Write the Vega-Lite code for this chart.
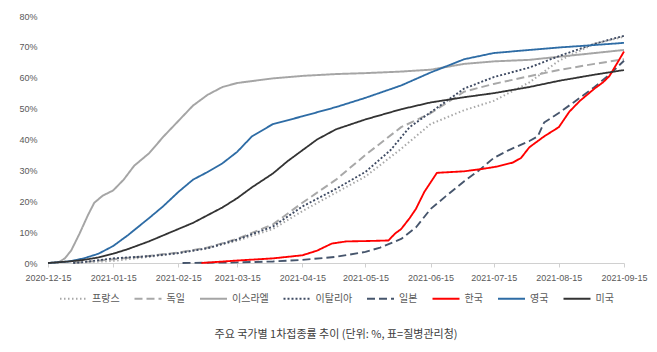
{
  "$schema": "https://vega.github.io/schema/vega-lite/v6.json",
  "width": 576,
  "height": 247,
  "autosize": {"type": "none"},
  "padding": {"left": 48, "top": 16, "right": 33, "bottom": 89},
  "background": "white",
  "config": {"view": {"stroke": null}},
  "title": {
    "text": "주요 국가별 1차접종률 추이 (단위: %, 표=질병관리청)",
    "orient": "bottom",
    "anchor": "middle",
    "offset": 25,
    "font": "Noto Sans CJK KR",
    "fontSize": 11,
    "fontWeight": "normal",
    "color": "#404040"
  },
  "data": {
    "values": [
      {"c": "프랑스", "d": "2020-12-27", "v": 0},
      {"c": "프랑스", "d": "2021-01-15", "v": 0.7},
      {"c": "프랑스", "d": "2021-02-01", "v": 2.0},
      {"c": "프랑스", "d": "2021-02-15", "v": 3.2},
      {"c": "프랑스", "d": "2021-03-01", "v": 4.8},
      {"c": "프랑스", "d": "2021-03-15", "v": 7.2},
      {"c": "프랑스", "d": "2021-04-01", "v": 11.0},
      {"c": "프랑스", "d": "2021-04-15", "v": 16.8},
      {"c": "프랑스", "d": "2021-05-01", "v": 22.8},
      {"c": "프랑스", "d": "2021-05-15", "v": 28.0},
      {"c": "프랑스", "d": "2021-06-01", "v": 37.0},
      {"c": "프랑스", "d": "2021-06-15", "v": 45.0},
      {"c": "프랑스", "d": "2021-07-01", "v": 49.5},
      {"c": "프랑스", "d": "2021-07-15", "v": 52.5},
      {"c": "프랑스", "d": "2021-08-01", "v": 58.5},
      {"c": "프랑스", "d": "2021-08-15", "v": 65.5},
      {"c": "프랑스", "d": "2021-09-01", "v": 71.0},
      {"c": "프랑스", "d": "2021-09-15", "v": 73.3},

      {"c": "독일", "d": "2020-12-27", "v": 0},
      {"c": "독일", "d": "2021-01-15", "v": 1.2},
      {"c": "독일", "d": "2021-02-01", "v": 2.3},
      {"c": "독일", "d": "2021-02-15", "v": 3.4},
      {"c": "독일", "d": "2021-03-01", "v": 5.0},
      {"c": "독일", "d": "2021-03-15", "v": 7.8},
      {"c": "독일", "d": "2021-04-01", "v": 12.5},
      {"c": "독일", "d": "2021-04-15", "v": 19.5},
      {"c": "독일", "d": "2021-05-01", "v": 27.0},
      {"c": "독일", "d": "2021-05-15", "v": 35.0},
      {"c": "독일", "d": "2021-06-01", "v": 44.0},
      {"c": "독일", "d": "2021-06-15", "v": 48.5},
      {"c": "독일", "d": "2021-07-01", "v": 55.5},
      {"c": "독일", "d": "2021-07-15", "v": 58.0},
      {"c": "독일", "d": "2021-08-01", "v": 60.5},
      {"c": "독일", "d": "2021-08-15", "v": 62.5},
      {"c": "독일", "d": "2021-09-01", "v": 64.5},
      {"c": "독일", "d": "2021-09-15", "v": 66.0},

      {"c": "이스라엘", "d": "2020-12-15", "v": 0},
      {"c": "이스라엘", "d": "2020-12-20", "v": 0.2},
      {"c": "이스라엘", "d": "2020-12-23", "v": 1.5},
      {"c": "이스라엘", "d": "2020-12-26", "v": 4.0},
      {"c": "이스라엘", "d": "2020-12-30", "v": 9.5},
      {"c": "이스라엘", "d": "2021-01-03", "v": 15.5},
      {"c": "이스라엘", "d": "2021-01-06", "v": 19.5},
      {"c": "이스라엘", "d": "2021-01-10", "v": 21.8},
      {"c": "이스라엘", "d": "2021-01-15", "v": 23.5},
      {"c": "이스라엘", "d": "2021-01-20", "v": 27.0},
      {"c": "이스라엘", "d": "2021-01-25", "v": 31.5},
      {"c": "이스라엘", "d": "2021-02-01", "v": 35.5},
      {"c": "이스라엘", "d": "2021-02-08", "v": 41.0},
      {"c": "이스라엘", "d": "2021-02-15", "v": 46.0},
      {"c": "이스라엘", "d": "2021-02-22", "v": 51.0},
      {"c": "이스라엘", "d": "2021-03-01", "v": 54.5},
      {"c": "이스라엘", "d": "2021-03-08", "v": 57.0},
      {"c": "이스라엘", "d": "2021-03-15", "v": 58.3},
      {"c": "이스라엘", "d": "2021-04-01", "v": 59.8},
      {"c": "이스라엘", "d": "2021-04-15", "v": 60.6},
      {"c": "이스라엘", "d": "2021-05-01", "v": 61.2},
      {"c": "이스라엘", "d": "2021-05-15", "v": 61.5},
      {"c": "이스라엘", "d": "2021-06-01", "v": 62.0},
      {"c": "이스라엘", "d": "2021-06-15", "v": 62.6},
      {"c": "이스라엘", "d": "2021-07-01", "v": 64.5},
      {"c": "이스라엘", "d": "2021-07-15", "v": 65.3},
      {"c": "이스라엘", "d": "2021-08-01", "v": 65.8},
      {"c": "이스라엘", "d": "2021-08-15", "v": 66.8},
      {"c": "이스라엘", "d": "2021-09-01", "v": 68.0},
      {"c": "이스라엘", "d": "2021-09-15", "v": 69.0},

      {"c": "이탈리아", "d": "2020-12-27", "v": 0},
      {"c": "이탈리아", "d": "2021-01-01", "v": 0.3},
      {"c": "이탈리아", "d": "2021-01-15", "v": 1.5},
      {"c": "이탈리아", "d": "2021-02-01", "v": 2.2},
      {"c": "이탈리아", "d": "2021-02-15", "v": 3.2},
      {"c": "이탈리아", "d": "2021-03-01", "v": 4.8},
      {"c": "이탈리아", "d": "2021-03-15", "v": 7.6},
      {"c": "이탈리아", "d": "2021-04-01", "v": 11.8},
      {"c": "이탈리아", "d": "2021-04-15", "v": 18.3},
      {"c": "이탈리아", "d": "2021-05-01", "v": 24.0},
      {"c": "이탈리아", "d": "2021-05-15", "v": 29.5},
      {"c": "이탈리아", "d": "2021-05-27", "v": 36.6},
      {"c": "이탈리아", "d": "2021-06-05", "v": 44.0},
      {"c": "이탈리아", "d": "2021-06-15", "v": 48.8},
      {"c": "이탈리아", "d": "2021-07-01", "v": 56.5},
      {"c": "이탈리아", "d": "2021-07-15", "v": 60.2},
      {"c": "이탈리아", "d": "2021-08-01", "v": 63.3},
      {"c": "이탈리아", "d": "2021-08-15", "v": 67.0},
      {"c": "이탈리아", "d": "2021-09-01", "v": 71.0},
      {"c": "이탈리아", "d": "2021-09-15", "v": 73.6},

      {"c": "일본", "d": "2021-02-17", "v": 0},
      {"c": "일본", "d": "2021-03-15", "v": 0.2},
      {"c": "일본", "d": "2021-04-01", "v": 0.5},
      {"c": "일본", "d": "2021-04-15", "v": 1.0},
      {"c": "일본", "d": "2021-05-01", "v": 2.0},
      {"c": "일본", "d": "2021-05-15", "v": 3.6},
      {"c": "일본", "d": "2021-05-22", "v": 5.0},
      {"c": "일본", "d": "2021-06-01", "v": 7.8},
      {"c": "일본", "d": "2021-06-08", "v": 11.5},
      {"c": "일본", "d": "2021-06-15", "v": 17.5},
      {"c": "일본", "d": "2021-06-22", "v": 21.5},
      {"c": "일본", "d": "2021-07-01", "v": 26.5},
      {"c": "일본", "d": "2021-07-08", "v": 30.0},
      {"c": "일본", "d": "2021-07-15", "v": 34.0},
      {"c": "일본", "d": "2021-07-22", "v": 36.5},
      {"c": "일본", "d": "2021-08-01", "v": 39.5},
      {"c": "일본", "d": "2021-08-05", "v": 41.0},
      {"c": "일본", "d": "2021-08-08", "v": 45.5},
      {"c": "일본", "d": "2021-08-15", "v": 48.6},
      {"c": "일본", "d": "2021-08-22", "v": 52.0},
      {"c": "일본", "d": "2021-09-01", "v": 57.0},
      {"c": "일본", "d": "2021-09-08", "v": 61.0},
      {"c": "일본", "d": "2021-09-15", "v": 65.5},

      {"c": "한국", "d": "2021-02-26", "v": 0},
      {"c": "한국", "d": "2021-03-15", "v": 0.8},
      {"c": "한국", "d": "2021-04-01", "v": 1.5},
      {"c": "한국", "d": "2021-04-15", "v": 2.5},
      {"c": "한국", "d": "2021-04-22", "v": 4.0},
      {"c": "한국", "d": "2021-04-29", "v": 6.3},
      {"c": "한국", "d": "2021-05-06", "v": 7.0},
      {"c": "한국", "d": "2021-05-15", "v": 7.1},
      {"c": "한국", "d": "2021-05-26", "v": 7.3},
      {"c": "한국", "d": "2021-05-29", "v": 9.5},
      {"c": "한국", "d": "2021-06-01", "v": 11.0},
      {"c": "한국", "d": "2021-06-05", "v": 14.5},
      {"c": "한국", "d": "2021-06-08", "v": 17.5},
      {"c": "한국", "d": "2021-06-12", "v": 23.0},
      {"c": "한국", "d": "2021-06-18", "v": 29.2},
      {"c": "한국", "d": "2021-07-01", "v": 29.7},
      {"c": "한국", "d": "2021-07-10", "v": 30.5},
      {"c": "한국", "d": "2021-07-17", "v": 31.3},
      {"c": "한국", "d": "2021-07-24", "v": 32.5},
      {"c": "한국", "d": "2021-07-28", "v": 34.0},
      {"c": "한국", "d": "2021-08-01", "v": 37.5},
      {"c": "한국", "d": "2021-08-08", "v": 41.0},
      {"c": "한국", "d": "2021-08-15", "v": 44.0},
      {"c": "한국", "d": "2021-08-20", "v": 49.0},
      {"c": "한국", "d": "2021-08-25", "v": 52.5},
      {"c": "한국", "d": "2021-09-01", "v": 56.5},
      {"c": "한국", "d": "2021-09-05", "v": 58.5},
      {"c": "한국", "d": "2021-09-08", "v": 60.5},
      {"c": "한국", "d": "2021-09-12", "v": 65.0},
      {"c": "한국", "d": "2021-09-15", "v": 68.5},

      {"c": "영국", "d": "2020-12-15", "v": 0},
      {"c": "영국", "d": "2020-12-25", "v": 0.5},
      {"c": "영국", "d": "2021-01-01", "v": 1.5},
      {"c": "영국", "d": "2021-01-08", "v": 3.0},
      {"c": "영국", "d": "2021-01-15", "v": 5.5},
      {"c": "영국", "d": "2021-01-22", "v": 9.0},
      {"c": "영국", "d": "2021-02-01", "v": 14.5},
      {"c": "영국", "d": "2021-02-08", "v": 18.5},
      {"c": "영국", "d": "2021-02-15", "v": 23.0},
      {"c": "영국", "d": "2021-02-22", "v": 27.0},
      {"c": "영국", "d": "2021-03-01", "v": 29.5},
      {"c": "영국", "d": "2021-03-08", "v": 32.3},
      {"c": "영국", "d": "2021-03-15", "v": 36.0},
      {"c": "영국", "d": "2021-03-22", "v": 41.0},
      {"c": "영국", "d": "2021-04-01", "v": 45.0},
      {"c": "영국", "d": "2021-04-15", "v": 47.5},
      {"c": "영국", "d": "2021-05-01", "v": 50.5},
      {"c": "영국", "d": "2021-05-15", "v": 53.5},
      {"c": "영국", "d": "2021-06-01", "v": 57.5},
      {"c": "영국", "d": "2021-06-15", "v": 61.7},
      {"c": "영국", "d": "2021-07-01", "v": 66.0},
      {"c": "영국", "d": "2021-07-15", "v": 68.0},
      {"c": "영국", "d": "2021-08-01", "v": 69.0},
      {"c": "영국", "d": "2021-08-15", "v": 69.8},
      {"c": "영국", "d": "2021-09-01", "v": 70.6},
      {"c": "영국", "d": "2021-09-15", "v": 71.3},

      {"c": "미국", "d": "2020-12-15", "v": 0},
      {"c": "미국", "d": "2020-12-25", "v": 0.5},
      {"c": "미국", "d": "2021-01-01", "v": 1.0},
      {"c": "미국", "d": "2021-01-08", "v": 1.8},
      {"c": "미국", "d": "2021-01-15", "v": 3.0},
      {"c": "미국", "d": "2021-01-22", "v": 4.5},
      {"c": "미국", "d": "2021-02-01", "v": 7.0},
      {"c": "미국", "d": "2021-02-08", "v": 9.0},
      {"c": "미국", "d": "2021-02-15", "v": 11.0},
      {"c": "미국", "d": "2021-02-22", "v": 13.0},
      {"c": "미국", "d": "2021-03-01", "v": 15.5},
      {"c": "미국", "d": "2021-03-08", "v": 18.0},
      {"c": "미국", "d": "2021-03-15", "v": 21.0},
      {"c": "미국", "d": "2021-03-22", "v": 24.5},
      {"c": "미국", "d": "2021-04-01", "v": 29.0},
      {"c": "미국", "d": "2021-04-08", "v": 33.0},
      {"c": "미국", "d": "2021-04-15", "v": 36.5},
      {"c": "미국", "d": "2021-04-22", "v": 40.0},
      {"c": "미국", "d": "2021-05-01", "v": 43.3},
      {"c": "미국", "d": "2021-05-15", "v": 46.5},
      {"c": "미국", "d": "2021-06-01", "v": 49.8},
      {"c": "미국", "d": "2021-06-15", "v": 52.0},
      {"c": "미국", "d": "2021-07-01", "v": 53.7},
      {"c": "미국", "d": "2021-07-15", "v": 55.0},
      {"c": "미국", "d": "2021-08-01", "v": 57.0},
      {"c": "미국", "d": "2021-08-15", "v": 59.0},
      {"c": "미국", "d": "2021-09-01", "v": 61.0},
      {"c": "미국", "d": "2021-09-15", "v": 62.5}
    ]
  },
  "mark": {"type": "line", "interpolate": "linear", "strokeJoin": "round"},
  "encoding": {
    "x": {
      "field": "d",
      "type": "temporal",
      "scale": {
        "type": "utc",
        "nice": false,
        "domain": [
          {"year": 2020, "month": 12, "date": 15, "utc": true},
          {"year": 2021, "month": 9, "date": 15, "utc": true}
        ]
      },
      "axis": {
        "title": null,
        "grid": false,
        "labelExpr": "utcFormat(datum.value, '%Y-%m-%d')",
        "values": [
          {"year": 2020, "month": 12, "date": 15, "utc": true},
          {"year": 2021, "month": 1, "date": 15, "utc": true},
          {"year": 2021, "month": 2, "date": 15, "utc": true},
          {"year": 2021, "month": 3, "date": 15, "utc": true},
          {"year": 2021, "month": 4, "date": 15, "utc": true},
          {"year": 2021, "month": 5, "date": 15, "utc": true},
          {"year": 2021, "month": 6, "date": 15, "utc": true},
          {"year": 2021, "month": 7, "date": 15, "utc": true},
          {"year": 2021, "month": 8, "date": 15, "utc": true},
          {"year": 2021, "month": 9, "date": 15, "utc": true}
        ],
        "labelFont": "Liberation Sans",
        "labelFontSize": 9,
        "labelColor": "#595959",
        "labelPadding": 6,
        "labelOverlap": false,
        "labelFlush": false,
        "domainColor": "#d0d0d0",
        "tickColor": "#d0d0d0",
        "tickSize": 4
      }
    },
    "y": {
      "field": "v",
      "type": "quantitative",
      "scale": {"domain": [0, 80], "nice": false},
      "axis": {
        "title": null,
        "grid": false,
        "domain": false,
        "ticks": false,
        "values": [0, 10, 20, 30, 40, 50, 60, 70, 80],
        "labelExpr": "datum.value + '%'",
        "labelFont": "Liberation Sans",
        "labelFontSize": 9,
        "labelColor": "#595959",
        "labelPadding": 11
      }
    },
    "color": {
      "field": "c",
      "type": "nominal",
      "scale": {
        "domain": ["프랑스", "독일", "이스라엘", "이탈리아", "일본", "한국", "영국", "미국"],
        "range": ["#a8a8a8", "#a8a8a8", "#a5a5a5", "#3f4b63", "#46556c", "#ff0000", "#2e6ca5", "#333333"]
      },
      "legend": {
        "title": null,
        "orient": "none",
        "legendX": 11,
        "legendY": 268,
        "direction": "horizontal",
        "symbolType": "stroke",
        "symbolSize": 729,
        "labelFont": "Noto Sans CJK KR",
        "labelFontSize": 10,
        "labelColor": "#595959",
        "labelOffset": 4,
        "columnPadding": 10.5
      }
    },
    "strokeDash": {
      "field": "c",
      "type": "nominal",
      "scale": {
        "domain": ["프랑스", "독일", "이스라엘", "이탈리아", "일본", "한국", "영국", "미국"],
        "range": [[1.5, 2.5], [8, 4], [1, 0], [2, 2], [8, 4], [1, 0], [1, 0], [1, 0]]
      },
      "legend": {
        "title": null,
        "orient": "none",
        "legendX": 11,
        "legendY": 268,
        "direction": "horizontal",
        "symbolType": "stroke",
        "symbolSize": 729,
        "labelFont": "Noto Sans CJK KR",
        "labelFontSize": 10,
        "labelColor": "#595959",
        "labelOffset": 4,
        "columnPadding": 10.5
      }
    },
    "strokeWidth": {
      "field": "c",
      "type": "nominal",
      "scale": {
        "domain": ["프랑스", "독일", "이스라엘", "이탈리아", "일본", "한국", "영국", "미국"],
        "range": [2, 1.8, 1.8, 2.5, 2, 3, 2, 1.8]
      },
      "legend": {
        "title": null,
        "orient": "none",
        "legendX": 11,
        "legendY": 268,
        "direction": "horizontal",
        "symbolType": "stroke",
        "symbolSize": 729,
        "labelFont": "Noto Sans CJK KR",
        "labelFontSize": 10,
        "labelColor": "#595959",
        "labelOffset": 4,
        "columnPadding": 10.5
      }
    }
  }
}
